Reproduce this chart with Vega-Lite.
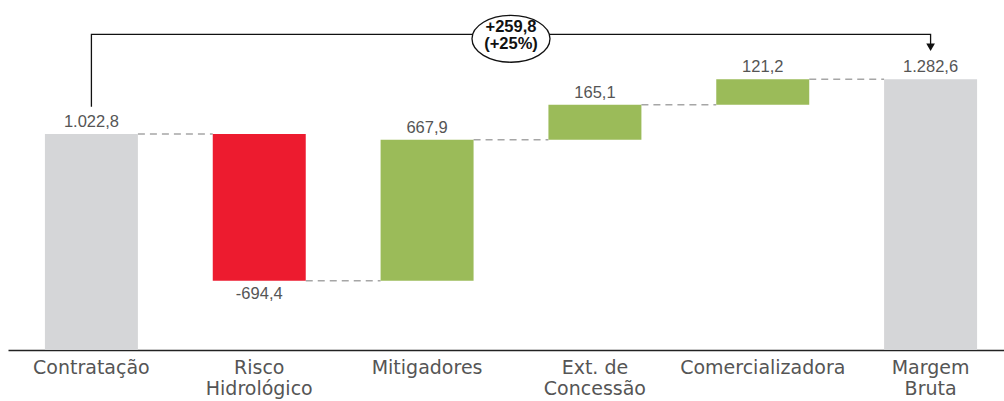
{
  "$schema": "https://vega.github.io/schema/vega-lite/v6.json",
  "width": 996,
  "height": 350,
  "autosize": {"type": "none"},
  "padding": {"left": 8, "top": 0, "right": 0, "bottom": 51},
  "config": {"view": {"stroke": null}, "font": "DejaVu Sans"},
  "datasets": {
    "steps": [
      {"cat": "Contratação", "start": 0, "end": 1022.8, "label": "1.022,8", "kind": "total", "next": "Risco Hidrológico", "level": 1022.8},
      {"cat": "Risco Hidrológico", "start": 1022.8, "end": 328.4, "label": "-694,4", "kind": "neg", "next": "Mitigadores", "level": 328.4},
      {"cat": "Mitigadores", "start": 328.4, "end": 996.3, "label": "667,9", "kind": "pos", "next": "Ext. de Concessão", "level": 996.3},
      {"cat": "Ext. de Concessão", "start": 996.3, "end": 1161.4, "label": "165,1", "kind": "pos", "next": "Comercializadora", "level": 1161.4},
      {"cat": "Comercializadora", "start": 1161.4, "end": 1282.6, "label": "121,2", "kind": "pos", "next": "Margem Bruta", "level": 1282.6},
      {"cat": "Margem Bruta", "start": 0, "end": 1282.6, "label": "1.282,6", "kind": "total", "next": null, "level": null}
    ],
    "bracket": [
      {"cat": "Contratação", "v": 1152, "o": 0},
      {"cat": "Contratação", "v": 1495, "o": 1},
      {"cat": "Margem Bruta", "v": 1495, "o": 2},
      {"cat": "Margem Bruta", "v": 1432, "o": 3}
    ],
    "arrow": [{"cat": "Margem Bruta", "v": 1434}],
    "note": [{"cat": "Mitigadores", "v": 1474, "text": "+259,8\n(+25%)"}]
  },
  "encoding": {
    "x": {
      "field": "cat",
      "type": "nominal",
      "scale": {
        "domain": ["Contratação", "Risco Hidrológico", "Mitigadores", "Ext. de Concessão", "Comercializadora", "Margem Bruta"],
        "range": [0, 1006],
        "paddingInner": 0.446,
        "paddingOuter": 0.22
      },
      "axis": {
        "title": null,
        "ticks": false,
        "grid": false,
        "domainColor": "#222222",
        "domainWidth": 1.5,
        "labelAngle": 0,
        "labelFont": "DejaVu Sans",
        "labelFontSize": 19,
        "labelColor": "#555555",
        "labelPadding": 8,
        "labelLineHeight": 21,
        "labelLimit": 300,
        "labelExpr": "datum.value == 'Risco Hidrológico' ? ['Risco','Hidrológico'] : datum.value == 'Ext. de Concessão' ? ['Ext. de','Concessão'] : datum.value == 'Margem Bruta' ? ['Margem','Bruta'] : datum.label"
      }
    }
  },
  "layer": [
    {
      "data": {"name": "steps"},
      "transform": [{"filter": "datum.next != null"}],
      "mark": {"type": "rule", "color": "#a6a6a6", "strokeWidth": 1.5, "strokeDash": [7, 5]},
      "encoding": {
        "x": {"field": "cat", "type": "nominal", "bandPosition": 1},
        "x2": {"field": "next", "bandPosition": 0},
        "y": {"field": "level", "type": "quantitative", "scale": {"domain": [0, 1658], "nice": false, "zero": true}, "axis": null}
      }
    },
    {
      "data": {"name": "steps"},
      "mark": {"type": "bar"},
      "encoding": {
        "y": {"field": "start", "type": "quantitative"},
        "y2": {"field": "end"},
        "color": {
          "field": "kind",
          "type": "nominal",
          "scale": {"domain": ["total", "neg", "pos"], "range": ["#d5d6d8", "#ed1b2f", "#9bbb59"]},
          "legend": null
        }
      }
    },
    {
      "data": {"name": "steps"},
      "transform": [{"filter": "datum.kind != 'neg'"}],
      "mark": {"type": "text", "baseline": "bottom", "dy": -4, "fontSize": 16.5, "color": "#555555", "font": "Liberation Sans"},
      "encoding": {
        "y": {"field": "end", "type": "quantitative"},
        "text": {"field": "label"}
      }
    },
    {
      "data": {"name": "steps"},
      "transform": [{"filter": "datum.kind == 'neg'"}],
      "mark": {"type": "text", "baseline": "top", "dy": 5, "fontSize": 16.5, "color": "#555555", "font": "Liberation Sans"},
      "encoding": {
        "y": {"field": "end", "type": "quantitative"},
        "text": {"field": "label"}
      }
    },
    {
      "data": {"name": "bracket"},
      "mark": {"type": "line", "color": "#111111", "strokeWidth": 1.3},
      "encoding": {
        "y": {"field": "v", "type": "quantitative"},
        "order": {"field": "o"}
      }
    },
    {
      "data": {"name": "arrow"},
      "mark": {"type": "point", "shape": "triangle-down", "filled": true, "color": "#111111", "size": 75, "opacity": 1},
      "encoding": {
        "y": {"field": "v", "type": "quantitative"}
      }
    },
    {
      "data": {"name": "note"},
      "mark": {"type": "point", "shape": "M-1,0 A1,0.6 0 1,0 1,0 A1,0.6 0 1,0 -1,0 Z", "filled": true, "fill": "white", "stroke": "#111111", "strokeWidth": 1.3, "size": 6084, "opacity": 1},
      "encoding": {
        "x": {"field": "cat", "type": "nominal", "bandPosition": 1.4025},
        "y": {"field": "v", "type": "quantitative"}
      }
    },
    {
      "data": {"name": "note"},
      "mark": {"type": "text", "fontWeight": "bold", "fontSize": 16.5, "color": "#111111", "lineBreak": "\n", "lineHeight": 17, "baseline": "middle", "dy": -12, "font": "Liberation Sans"},
      "encoding": {
        "x": {"field": "cat", "type": "nominal", "bandPosition": 1.4025},
        "y": {"field": "v", "type": "quantitative"},
        "text": {"field": "text"}
      }
    }
  ]
}
